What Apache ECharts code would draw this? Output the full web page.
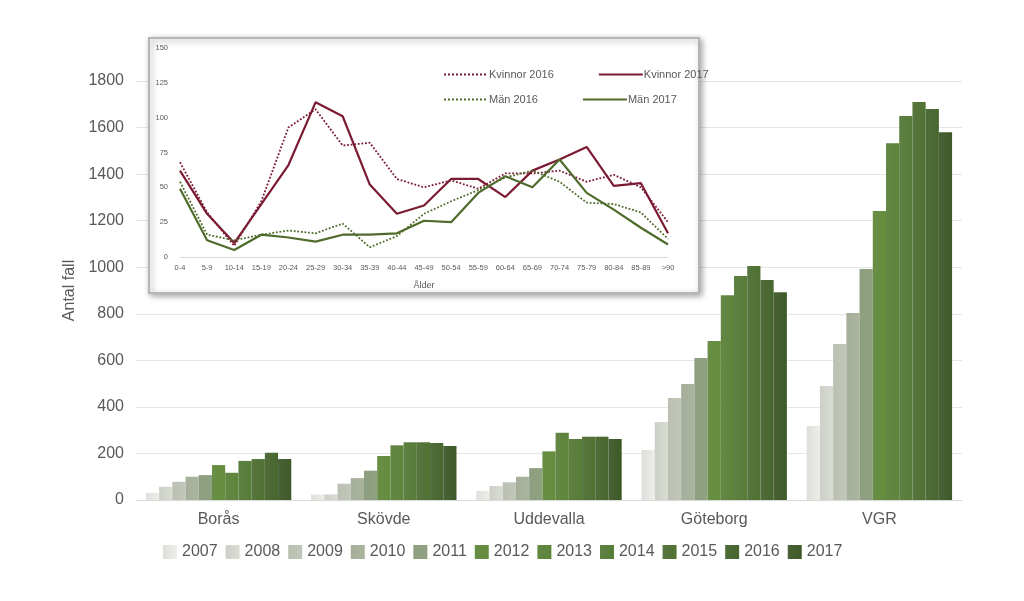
<!DOCTYPE html><html><head><meta charset="utf-8"><script src="https://cdn.jsdelivr.net/npm/echarts@6/dist/echarts.min.js"></script></head><body style="margin:0"><div id="c" style="width:1024px;height:601px"></div><script>
const regions=['Borås','Skövde','Uddevalla','Göteborg','VGR'];
const years=['2007','2008','2009','2010','2011','2012','2013','2014','2015','2016','2017'];
const v2007=[31,24,39,215,318];
const v2008=[57,24,60,335,490];
const v2009=[78,70,76,438,670];
const v2010=[100,94,100,498,803];
const v2011=[107,126,137,610,992];
const v2012=[150,189,209,683,1241];
const v2013=[117,235,289,880,1533];
const v2014=[168,248,262,962,1650];
const v2015=[176,248,272,1005,1710];
const v2016=[203,245,272,945,1680];
const v2017=[176,232,262,893,1580];
const yearValues=[v2007,v2008,v2009,v2010,v2011,v2012,v2013,v2014,v2015,v2016,v2017];
const ages=['0-4','5-9','10-14','15-19','20-24','25-29','30-34','35-39','40-44','45-49','50-54','55-59','60-64','65-69','70-74','75-79','80-84','85-89','>90'];
const kv2016=[68,32,8,40,93,106,80,82,56,50,55,49,60,60,62,54,59,50,25];
const kv2017=[62,31,10,38,66,111,101,52,31,37,56,56,43,62,70,79,51,53,17];
const man2016=[54,16,12,16,19,17,24,7,15,31,40,48,57,62,54,39,38,32,13];
const man2017=[49,12,5,16,14,11,16,16,17,26,25,46,58,50,70,46,34,21,9];
const colors=['#dcdcd8','#c9ccc4','#b4baac','#9ea892','#859677','#5c8438','#577c36','#517433','#4a6a2f','#42602b','#3a5425'];
const grad=c=>({type:'linear',x:0,y:0,x2:1,y2:0,colorStops:[{offset:0,color:echarts.color.lift(c,0.08)},{offset:1,color:echarts.color.lift(c,-0.08)}]});
const series=years.map((y,i)=>({name:y,type:'bar',xAxisIndex:0,yAxisIndex:0,data:yearValues[i],barGap:'0%',barCategoryGap:'12%',itemStyle:{color:grad(colors[i])}}));
const red='#7b1a33',green='#4f6b2b';
const ln=(name,data,color,dotted)=>({name,type:'line',xAxisIndex:1,yAxisIndex:1,data,symbol:'none',z:10,lineStyle:{color,width:dotted?1.8:2.2,type:dotted?'dotted':'solid'},itemStyle:{color}});
series.push(ln('Kvinnor 2016',kv2016,red,true),ln('Kvinnor 2017',kv2017,red,false),ln('Män 2016',man2016,green,true),ln('Män 2017',man2017,green,false));
const lg=(names,top)=>({data:names,left:438,top,itemGap:44,itemWidth:44,itemHeight:10,z:20,itemStyle:{opacity:0},textStyle:{fontSize:11,color:'#595959',padding:[0,0,0,-4]}});
const chart=echarts.init(document.getElementById('c'));
chart.setOption({
animation:false,
textStyle:{fontFamily:'Liberation Sans'},
graphic:[{type:'rect',shape:{x:149,y:38,width:550,height:255},z:5,style:{fill:'#fff',stroke:'#b5b5b5',lineWidth:2,shadowBlur:6,shadowColor:'rgba(0,0,0,0.35)',shadowOffsetX:2,shadowOffsetY:2}}],
legend:[{data:years,bottom:36,left:158,itemWidth:14,itemHeight:14,itemGap:8,icon:'rect',textStyle:{fontSize:16,color:'#595959'}},
lg(['Kvinnor 2016','Kvinnor 2017'],64),lg(['Män 2016','Män 2017'],89)],
grid:[{left:136,right:62,top:81,bottom:101},{left:180,right:356,top:48,bottom:344,z:10}],
xAxis:[{type:'category',data:regions,gridIndex:0,axisLine:{lineStyle:{color:'#d9d9d9'}},axisTick:{show:false},axisLabel:{fontSize:16,color:'#595959',margin:12}},
{type:'category',data:ages,gridIndex:1,boundaryGap:false,z:10,axisLine:{lineStyle:{color:'#d9d9d9'}},axisTick:{show:false},axisLabel:{fontSize:7.5,color:'#595959',interval:0,margin:7},name:'Ålder',nameLocation:'middle',nameGap:24,nameTextStyle:{fontSize:9,color:'#595959'}}],
yAxis:[{type:'value',gridIndex:0,min:0,max:1800,interval:200,name:'Antal fall',nameLocation:'middle',nameGap:58,nameTextStyle:{fontSize:16,color:'#595959'},axisLabel:{fontSize:16,color:'#595959',margin:12,formatter:v=>String(v)},splitLine:{lineStyle:{color:'#e6e6e6'}}},
{type:'value',gridIndex:1,min:0,max:150,interval:25,z:10,axisLabel:{fontSize:7.5,color:'#595959',margin:12},splitLine:{show:false}}],
series});
</script></body></html>
